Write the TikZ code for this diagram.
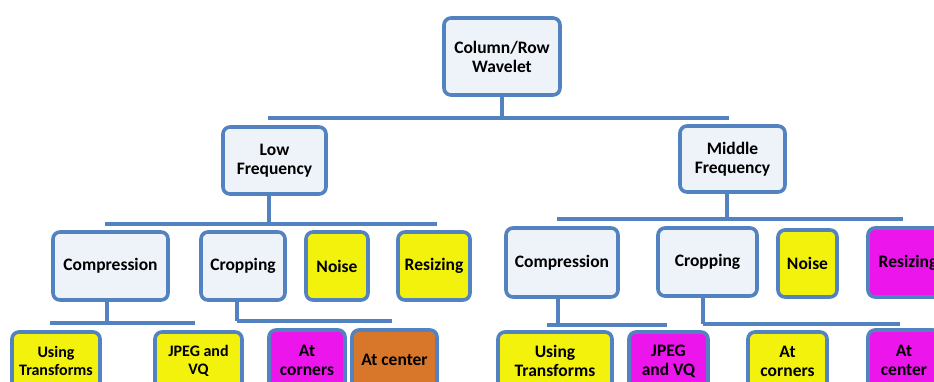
\documentclass[tikz,border=0pt]{standalone}
\usepackage{fontspec}
\setmainfont{Carlito}
\definecolor{bordblue}{HTML}{5282C0}
\definecolor{paleblue}{HTML}{EEF2F9}
\definecolor{yel}{HTML}{F2F20C}
\definecolor{mag}{HTML}{EC16EC}
\definecolor{org}{HTML}{D8772A}
\tikzset{
  box/.style={draw=bordblue, line width=3.6pt, rounded corners=7pt, align=center,
    font=\bfseries\fontsize{17.5}{19}\selectfont, inner sep=1pt},
  smalltext/.style={font=\bfseries\fontsize{16}{17.5}\selectfont},
  pale/.style={box, fill=paleblue},
  ybox/.style={box, fill=yel},
  mbox/.style={box, fill=mag},
  obox/.style={box, fill=org},
  link/.style={draw=bordblue, line width=3.6pt}
}
\begin{document}
\begin{tikzpicture}[x=1pt,y=-1pt]
\useasboundingbox (0,0) rectangle (934,381);
\clip (0,0) rectangle (934,381);
\fill[white] (0,0) rectangle (934,381);
% top levels
\node[pale, minimum width=116pt, minimum height=77pt] (root) at (502,56.5) {Column/Row\\Wavelet};
\node[pale, minimum width=103pt, minimum height=67pt] (low) at (274.5,160.5) {Low\\Frequency};
\node[pale, minimum width=105pt, minimum height=66pt] (mid) at (732.5,159) {Middle\\Frequency};
% second level left
\node[pale, minimum width=115pt, minimum height=68pt] (lcomp) at (110.5,266) {Compression};
\node[pale, minimum width=84pt, minimum height=68pt] (lcrop) at (243,266) {Cropping};
\node[ybox, minimum width=62pt, minimum height=68pt] (lnoise) at (337,266) {Noise};
\node[ybox, minimum width=72pt, minimum height=68pt] (lresz) at (434,266) {Resizing};
% second level right
\node[pale, minimum width=112pt, minimum height=69pt] (mcomp) at (562,262.5) {Compression};
\node[pale, minimum width=99pt, minimum height=68pt] (mcrop) at (707.5,262) {Cropping};
\node[ybox, minimum width=59pt, minimum height=67pt] (mnoise) at (807.5,263.5) {Noise};
\node[mbox, minimum width=80pt, minimum height=69pt] (mresz) at (908,262.5) {Resizing};
% third level left
\node[ybox, smalltext, minimum width=88pt, minimum height=58pt] (lusing) at (56,361) {Using\\Transforms};
\node[ybox, smalltext, minimum width=87pt, minimum height=58pt] (ljpeg) at (198.5,361) {JPEG and\\VQ};
\node[mbox, minimum width=76pt, minimum height=60pt] (lcorn) at (307,360) {At\\corners};
\node[obox, minimum width=85pt, minimum height=60pt] (lcent) at (394.5,360) {At center};
% third level right
\node[ybox, minimum width=114pt, minimum height=58pt] (musing) at (555,361) {Using\\Transforms};
\node[mbox, minimum width=79pt, minimum height=58pt] (mjpeg) at (668.5,361) {JPEG\\and VQ};
\node[ybox, minimum width=79pt, minimum height=58pt] (mcorn) at (787.5,361) {At\\corners};
\node[mbox, minimum width=72pt, minimum height=60pt] (mcent) at (904,360) {At\\center};
% connectors
\draw[link] (root.south) -- (502,118);
\draw[link] (268,118) -- (729,118);
\draw[link] (low.south -| 269,0) -- (269,224);
\draw[link] (105,224) -- (437,224);
\draw[link] (mid.south -| 727,0) -- (727,219);
\draw[link] (557,219) -- (903,219);
\draw[link] (lcomp.south -| 107,0) -- (107,323);
\draw[link] (50,323) -- (195,323);
\draw[link] (lcrop.south -| 237,0) -- (237,321);
\draw[link] (237,321) -- (392,321);
\draw[link] (mcomp.south -| 558,0) -- (558,325);
\draw[link] (547,325) -- (667,325);
\draw[link] (mcrop.south -| 703,0) -- (703,324);
\draw[link] (703,324) -- (900,324);
\end{tikzpicture}
\end{document}
